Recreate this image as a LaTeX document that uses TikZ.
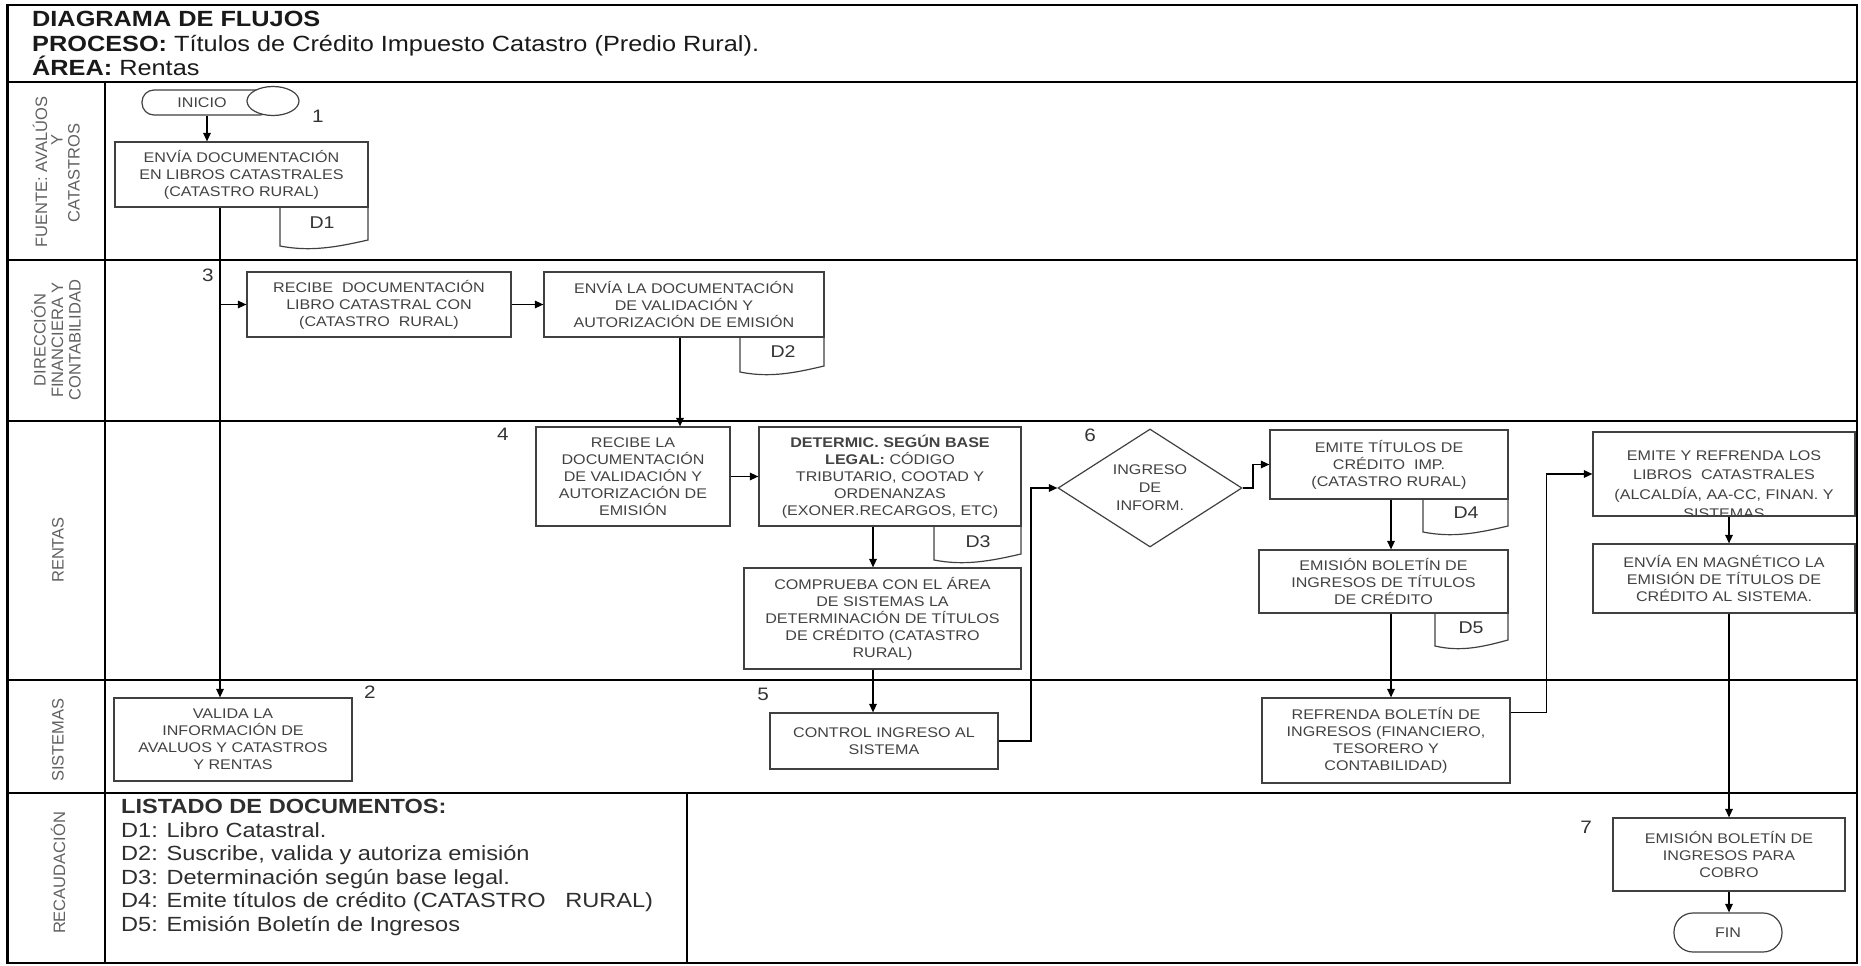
\documentclass[tikz,border=0pt]{standalone}
\usepackage{fontspec}
\setmainfont{Liberation Sans}[FakeStretch=1.15]
\newfontfamily\lanefont{Liberation Sans}
\usetikzlibrary{arrows.meta,shapes.geometric,calc}

% process box given by its corners: name, x1, y1, x2, y2, text
\newcommand\procnode[6]{%
  \node[pbox,minimum width={#4-#2},minimum height={#5-#3}] (#1) at ({(#2+#4)/2},{(#3+#5)/2}) {#6};}
% document tab under a box: name, x1, y1, x2, y2, label, label x, label y
\newcommand\docnode[8]{%
  \draw[docline] (#2,#3) -- (#2,#5)
    .. controls ({#2+0.35*(#4-#2)},{#5+6}) and ({#2+0.65*(#4-#2)},{#5+1}) .. (#4,{#5-6}) -- (#4,#3);
  \node[doclabel] (#1) at (#7,#8) {#6};}

\begin{document}
\begin{tikzpicture}[x=1pt,y=-1pt,
  frameline/.style={line width=2.6pt,black},
  laneline/.style={line width=2.2pt,black},
  pbox/.style={draw=black!75,line width=1.2pt,fill=white,inner sep=0pt,align=center,
    text=black!74,font=\fontsize{14}{17}\selectfont},
  term/.style={pbox,rounded corners=12pt},
  conn/.style={line width=1.3pt,-{Triangle[length=8.5pt,width=7.5pt]}},
  lanelabel/.style={rotate=90,text=black!62,align=center,inner sep=0pt,
    font=\lanefont\fontsize{16.5}{17.5}\selectfont},
  numlabel/.style={font=\fontsize{18}{20}\selectfont,text=black!80,inner sep=0pt},
  doclabel/.style={font=\fontsize{17}{20}\selectfont,text=black!80,inner sep=0pt},
  docline/.style={draw=black!75,line width=1.2pt},
  listtext/.style={font=\fontsize{20.5}{23}\selectfont,anchor=base west,inner sep=0pt,text=black!82},
  headtext/.style={font=\fontsize{22}{24}\selectfont,anchor=base west,inner sep=0pt,text=black!90},
]
\useasboundingbox (0,0) rectangle (1861,966);

% ---- frame, header and swimlanes ----
\draw[frameline] (7.5,5) rectangle (1857,963);
\draw[laneline] (7.5,82) -- (1857,82);
\draw[laneline] (7.5,260) -- (1857,260);
\draw[laneline] (7.5,421) -- (1857,421);
\draw[laneline] (7.5,680) -- (1857,680);
\draw[line width=2.8pt] (7.5,793) -- (1857,793);
\draw[line width=1.8pt] (105,82) -- (105,963);
\draw[line width=2pt] (687,793) -- (687,963);

\node[headtext] (title) at (32,27) {\textbf{DIAGRAMA DE FLUJOS}};
\node[headtext] (proc) at (32,52) {\textbf{PROCESO:} Títulos de Crédito Impuesto Catastro (Predio Rural).};
\node[headtext] (area) at (32,76) {\textbf{ÁREA:} Rentas};

\node[lanelabel] (lane1a) at (40,172) {FUENTE: AVALÚOS};
\node[lanelabel] (lane1b) at (57,140) {Y};
\node[lanelabel] (lane1c) at (74,173) {CATASTROS};
\node[lanelabel] (lane2) at (56,340) {DIRECCIÓN\\FINANCIERA Y\\CONTABILIDAD};
\node[lanelabel] (lane3) at (58,550) {RENTAS};
\node[lanelabel] (lane4) at (58,740) {SISTEMAS};
\node[lanelabel] (lane5) at (58,873) {RECAUDACIÓN};

% ---- column coordinates for vertical connectors ----
\coordinate (xA) at (207,0);
\coordinate (xB) at (220,0);
\coordinate (xC) at (680,0);
\coordinate (xD) at (873,0);
\coordinate (xF) at (1031,0);
\coordinate (xG) at (1253,0);
\coordinate (xH) at (1391,0);
\coordinate (xI) at (1729,0);

% ---- lane 1 ----
\node[term,minimum width=130,minimum height=25] (inicio) at (207,102.5) {\hspace*{2pt}INICIO\hspace*{12pt}};
\node[draw=black!75,line width=1.2pt,fill=white,ellipse,minimum width=52,minimum height=29,inner sep=0pt] (inicioend) at (273,101) {};
\procnode{b1}{115}{142}{368}{207}{ENVÍA DOCUMENTACIÓN\\EN LIBROS CATASTRALES\\(CATASTRO RURAL)}
\docnode{d1}{280}{207}{368}{246}{D1}{322}{223}
\node[numlabel] (n1) at (318,116) {1};

% ---- lane 2 ----
\procnode{b3}{247}{272}{511}{337}{RECIBE \ DOCUMENTACIÓN\\LIBRO CATASTRAL CON\\(CATASTRO \ RURAL)}
\procnode{envia}{544}{272}{824}{337}{ENVÍA LA DOCUMENTACIÓN\\DE VALIDACIÓN Y\\AUTORIZACIÓN DE EMISIÓN}
\docnode{d2}{740}{337}{824}{372}{D2}{783}{352}
\node[numlabel] (n3) at (208,275) {3};

% ---- lane 3 ----
\procnode{b4}{536}{427}{730}{526}{\fontsize{14}{16}\selectfont RECIBE LA\\DOCUMENTACIÓN\\DE VALIDACIÓN Y\\AUTORIZACIÓN DE\\EMISIÓN}
\procnode{det}{759}{427}{1021}{526}{\fontsize{14}{16}\selectfont\textbf{DETERMIC. SEGÚN BASE}\\\textbf{LEGAL:} CÓDIGO\\TRIBUTARIO, COOTAD Y\\ORDENANZAS\\(EXONER.RECARGOS, ETC)}
\docnode{d3}{934}{526}{1021}{560}{D3}{978}{542}
\procnode{comp}{744}{568}{1021}{669}{\fontsize{14}{16}\selectfont COMPRUEBA CON EL ÁREA\\DE SISTEMAS LA\\DETERMINACIÓN DE TÍTULOS\\DE CRÉDITO (CATASTRO\\RURAL)}
\node[pbox,diamond,shape aspect=1.5,minimum width=184,minimum height=118,font=\fontsize{14}{18}\selectfont] (dec) at (1150,488) {INGRESO\\DE\\INFORM.};
\procnode{emite}{1270}{430}{1508}{499}{EMITE TÍTULOS DE\\CRÉDITO \ IMP.\\(CATASTRO RURAL)}
\docnode{d4}{1423}{499}{1508}{532}{D4}{1466}{513}
\procnode{emis}{1259}{550}{1508}{613}{\fontsize{14}{16}\selectfont EMISIÓN BOLETÍN DE\\INGRESOS DE TÍTULOS\\DE CRÉDITO}
\docnode{d5}{1435}{613}{1508}{646}{D5}{1471}{628}
\procnode{emref}{1593}{432}{1855}{516}{}
\begin{scope}
  \clip (1594,433) rectangle (1854,515.2);
  \node[pbox,draw=none,fill=none,anchor=north,font=\fontsize{14}{19.5}\selectfont] (emreftext) at (1724,450) {EMITE Y REFRENDA LOS\\LIBROS \ CATASTRALES\\(ALCALDÍA, AA-CC, FINAN. Y\\SISTEMAS};
\end{scope}
\procnode{magn}{1593}{544}{1855}{613}{ENVÍA EN MAGNÉTICO LA\\EMISIÓN DE TÍTULOS DE\\CRÉDITO AL SISTEMA.}
\node[numlabel] (n4) at (503,434) {4};
\node[numlabel] (n6) at (1090,435) {6};

% ---- lane 4 ----
\procnode{valida}{114}{698}{352}{781}{VALIDA LA\\INFORMACIÓN DE\\AVALUOS Y CATASTROS\\Y RENTAS}
\procnode{ctrl}{770}{713}{998}{769}{CONTROL INGRESO AL\\SISTEMA}
\procnode{refr}{1262}{698}{1510}{783}{REFRENDA BOLETÍN DE\\INGRESOS (FINANCIERO,\\TESORERO Y\\CONTABILIDAD)}
\node[numlabel] (n2) at (370,692) {2};
\node[numlabel] (n5) at (763,694) {5};

% ---- lane 5 ----
\node[listtext] (lt0) at (121,813) {\textbf{LISTADO DE DOCUMENTOS:}};
\node[listtext] (lt1) at (121,837) {D1: Libro Catastral.};
\node[listtext] (lt2) at (121,860.5) {D2: Suscribe, valida y autoriza emisión};
\node[listtext] (lt3) at (121,884) {D3: Determinación según base legal.};
\node[listtext] (lt4) at (121,907.5) {D4: Emite títulos de crédito (CATASTRO \ \ RURAL)};
\node[listtext] (lt5) at (121,931) {D5: Emisión Boletín de Ingresos};
\procnode{cobro}{1613}{818}{1845}{891}{EMISIÓN BOLETÍN DE\\INGRESOS PARA\\COBRO}
\node[term,rounded corners=19pt,minimum width=108,minimum height=39] (fin) at (1728,932.5) {FIN};
\node[numlabel] (n7) at (1586,827) {7};

% ---- connectors ----
\draw[conn] (inicio.south -| xA) -- (b1.north -| xA);
\draw[conn] (b1.south -| xB) -- (valida.north -| xB);
\draw[conn] (b3.west -| xB) -- (b3.west);
\draw[conn] (b3.east) -- (envia.west);
\draw[conn] (envia.south -| xC) -- (b4.north -| xC);
\draw[conn] (b4.east) -- (det.west);
\draw[conn] (det.south -| xD) -- (comp.north -| xD);
\draw[conn] (comp.south -| xD) -- (ctrl.north -| xD);
\draw[conn] (ctrl.east) -- (ctrl.east -| xF) -- (dec.west -| xF) -- (dec.west);
\draw[conn] (dec.east) -- (dec.east -| xG) -- (emite.west -| xG) -- (emite.west);
\draw[conn] (emite.south -| xH) -- (emis.north -| xH);
\draw[conn] (emis.south -| xH) -- (refr.north -| xH);
\draw[conn] ($(refr.north east)+(0,15)$) -- ++(36,0) |- (emref.west);
\draw[conn] (emref.south -| xI) -- (magn.north -| xI);
\draw[conn] (magn.south -| xI) -- (cobro.north -| xI);
\draw[conn] (cobro.south -| xI) -- (fin.north -| xI);
\end{tikzpicture}
\end{document}
